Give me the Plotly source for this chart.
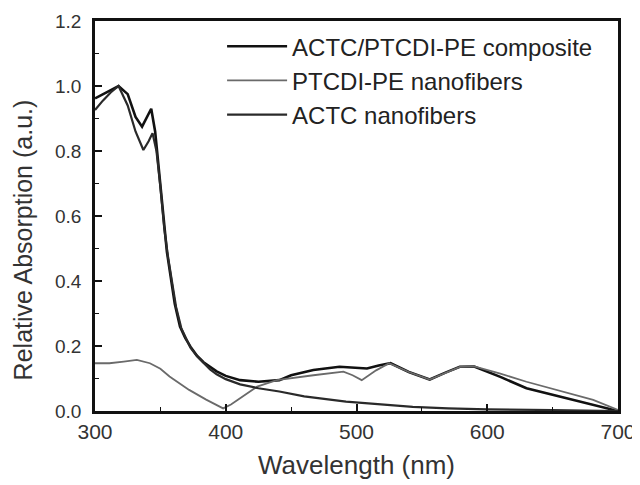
import plotly.graph_objects as go

# Composite (ACTC/PTCDI-PE)
comp_x = [300, 305, 312, 318, 325, 331, 336, 340, 343, 346, 349, 352, 355, 358, 361, 365, 369, 373, 378, 383, 388, 393, 400, 411, 425, 441, 450, 467, 487, 498, 508, 517, 526, 540, 556, 568, 579, 590, 610, 630, 655, 681, 700]
comp_y = [0.962, 0.972, 0.988, 1.0, 0.975, 0.905, 0.875, 0.905, 0.93, 0.86, 0.74, 0.61, 0.49, 0.41, 0.33, 0.26, 0.225, 0.198, 0.17, 0.15, 0.135, 0.122, 0.108, 0.095, 0.09, 0.095, 0.11, 0.126, 0.136, 0.133, 0.131, 0.14, 0.147, 0.12, 0.097, 0.118, 0.136, 0.137, 0.105, 0.07, 0.045, 0.018, 0.0]

# PTCDI-PE nanofibers
ptc_x = [300, 311, 322, 332, 342, 350, 357, 365, 372, 385, 398, 404, 411, 424, 439, 450, 467, 490, 497, 504, 515, 525, 540, 556, 568, 579, 590, 610, 630, 655, 681, 700]
ptc_y = [0.147, 0.147, 0.152, 0.157, 0.147, 0.13, 0.106, 0.085, 0.065, 0.035, 0.008, 0.02, 0.039, 0.075, 0.095, 0.1, 0.11, 0.121, 0.11, 0.095, 0.125, 0.147, 0.12, 0.097, 0.118, 0.136, 0.137, 0.115, 0.09, 0.062, 0.034, 0.003]

# ACTC nanofibers
actc_x = [300, 306, 312, 318, 325, 331, 337, 341, 344, 347, 350, 353, 356, 359, 362, 366, 370, 373, 378, 383, 388, 393, 400, 411, 425, 441, 460, 492, 520, 543, 570, 600, 650, 700]
actc_y = [0.926, 0.955, 0.98, 1.0, 0.94, 0.86, 0.803, 0.83, 0.855, 0.8, 0.69, 0.56, 0.47, 0.39, 0.32, 0.255, 0.22, 0.195, 0.168, 0.147, 0.128, 0.113, 0.098, 0.082, 0.07, 0.06, 0.045, 0.029, 0.02, 0.013, 0.008, 0.005, 0.003, 0.0]

x_ticks = [300, 400, 500, 600, 700]
y_ticks = [0.0, 0.2, 0.4, 0.6, 0.8, 1.0, 1.2]

FONT = "Liberation Sans, Arial, sans-serif"

fig = go.Figure()
fig.add_trace(go.Scatter(x=comp_x, y=comp_y, mode="lines", name="ACTC/PTCDI-PE composite",
                         line=dict(color="#111111", width=2.6)))
fig.add_trace(go.Scatter(x=ptc_x, y=ptc_y, mode="lines", name="PTCDI-PE nanofibers",
                         line=dict(color="#6a6a6a", width=1.8)))
fig.add_trace(go.Scatter(x=actc_x, y=actc_y, mode="lines", name="ACTC nanofibers",
                         line=dict(color="#2a2a2a", width=2.2)))

axis_common = dict(
    showline=True, linecolor="#111111", linewidth=2.5, mirror=True,
    ticks="inside", ticklen=7, tickwidth=1.5, tickcolor="#111111",
    showgrid=False, zeroline=False, automargin=False,
    minor=dict(ticks="inside", ticklen=4, tickwidth=1.2, tickcolor="#111111"),
)

fig.update_xaxes(range=[300, 700], tickvals=x_ticks, ticktext=[str(v) for v in x_ticks],
                 minor_dtick=50,
                 tickfont=dict(family=FONT, size=21, color="#333333"),
                 title=dict(text="Wavelength (nm)", font=dict(family=FONT, size=26, color="#333333"), standoff=14),
                 **axis_common)
fig.update_yaxes(range=[0, 1.2], tickvals=y_ticks, ticktext=[f"{v:.1f}" for v in y_ticks],
                 minor_dtick=0.1, ticklabelstandoff=7,
                 tickfont=dict(family=FONT, size=19, color="#333333"),
                 **axis_common)

fig.add_annotation(text="Relative Absorption (a.u.)", textangle=-90, showarrow=False,
                   xref="paper", yref="paper", x=-0.1377, y=0.44,
                   xanchor="center", yanchor="middle",
                   font=dict(family=FONT, size=25, color="#333333"))

fig.update_layout(
    width=640, height=485,
    margin=dict(l=87, r=30, t=13, b=82),
    paper_bgcolor="white", plot_bgcolor="white",
    showlegend=True,
    legend=dict(x=0.243, y=0.992, xanchor="left", yanchor="top",
                font=dict(family=FONT, size=24, color="#222222"),
                bgcolor="rgba(0,0,0,0)", borderwidth=0, tracegroupgap=0, itemwidth=60),
    font=dict(family=FONT),
)

fig.write_html("out.html")
